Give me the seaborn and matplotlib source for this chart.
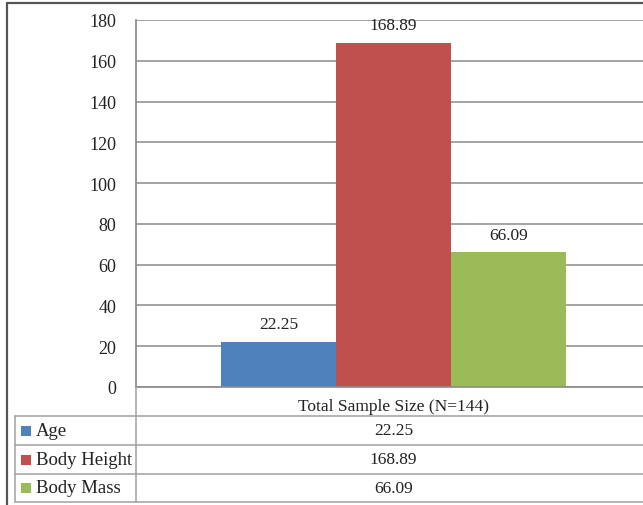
import matplotlib
matplotlib.use("Agg")
import matplotlib.pyplot as plt
import seaborn as sns
import pandas as pd
from matplotlib.patches import Rectangle
from matplotlib.lines import Line2D

category = ["Total Sample Size (N=144)"]
series = ["Age", "Body Height", "Body Mass"]
values = [22.25, 168.89, 66.09]
colors = ["#4F81BD", "#C0504D", "#9BBB59"]
yticks = [0, 20, 40, 60, 80, 100, 120, 140, 160, 180]

df = pd.DataFrame({"cat": category * len(series), "series": series, "value": values})

sns.set_theme(style="white")
plt.rcParams["font.family"] = ["Liberation Serif", "DejaVu Serif"]

W, H = 643, 506
fig = plt.figure(figsize=(W / 100, H / 100), dpi=100)

def fx(px):
    return px / W

def fy(py):
    return 1 - py / H

ax = fig.add_axes([fx(136), fy(388), fx(651) - fx(136), fy(21) - fy(388)])
sns.barplot(data=df, x="cat", y="value", hue="series", palette=colors,
            width=0.67, ax=ax, legend=False, saturation=1, gap=0, linewidth=0)
ax.set_ylim(0, 180)
ax.set_yticks(yticks)
ax.set_yticklabels([str(t) for t in yticks], fontsize=13, color="#222222")
ax.tick_params(axis="y", length=0, pad=14)
ax.tick_params(axis="x", length=0, pad=8, labelsize=12.5, labelcolor="#222222")
ax.set_xlabel("")
ax.set_ylabel("")
ax.yaxis.grid(True, color="#8c8c8c", linewidth=1.1)
ax.set_axisbelow(True)
for s in ["top", "right"]:
    ax.spines[s].set_visible(False)
ax.spines["left"].set_color("#8c8c8c")
ax.spines["bottom"].set_color("#8c8c8c")
for c in ax.containers:
    ax.bar_label(c, fmt="%.2f", padding=7, fontsize=12.5, color="#222222")

# data table
lc = "#a0a0a0"
for py in [417, 446, 475, 503]:
    fig.add_artist(Line2D([fx(15), 1], [fy(py), fy(py)], color=lc, lw=1.1))
fig.add_artist(Line2D([fx(136), fx(136)], [fy(388), fy(503)], color=lc, lw=1.1))
fig.add_artist(Line2D([fx(15), fx(15)], [fy(417), fy(503)], color=lc, lw=1.1))
row_centers = [431.5, 460.5, 489]
for name, val, col, yc in zip(series, values, colors, row_centers):
    fig.add_artist(Rectangle((fx(21), fy(yc + 5)), fx(10), fy(yc - 5) - fy(yc + 5),
                             facecolor=col, edgecolor="none"))
    fig.text(fx(36), fy(yc), name, ha="left", va="center", fontsize=13.5, color="#222222")
    fig.text(fx(393.5), fy(yc), f"{val:.2f}", ha="center", va="center", fontsize=12.5,
             color="#222222")

# outer border
fig.add_artist(Line2D([fx(7), fx(7)], [fy(4), 0], color="#555555", lw=1.6))
fig.add_artist(Line2D([fx(7), 1], [fy(4), fy(4)], color="#555555", lw=1.6))

fig.savefig("out.png", dpi=100)
